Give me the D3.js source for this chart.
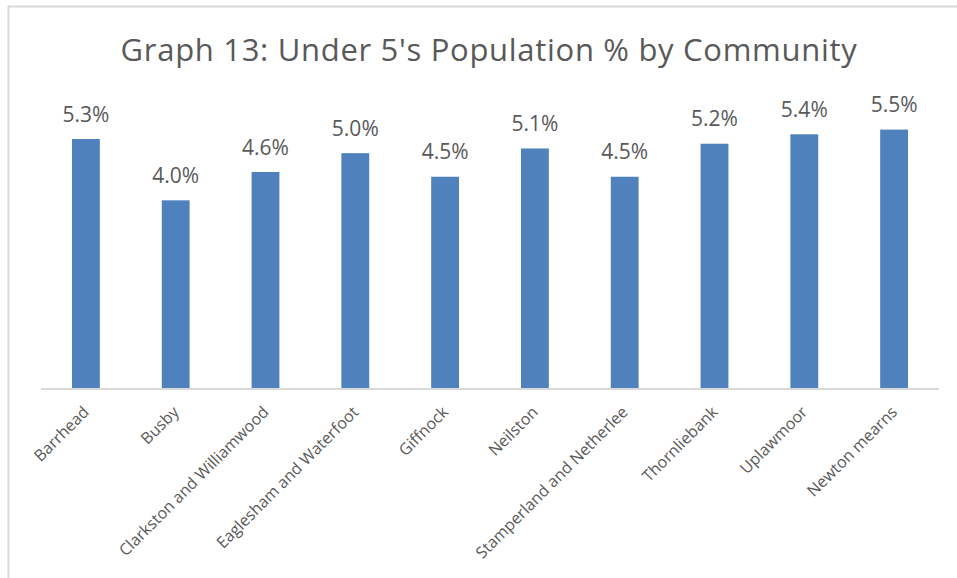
<!DOCTYPE html>
<html>
<head>
<meta charset="utf-8">
<script src="https://cdn.jsdelivr.net/npm/d3@7"></script>
<style>
  html, body { margin: 0; padding: 0; background: #ffffff; }
  svg { display: block; }
  text { font-family: "Open Sans", "Noto Sans", sans-serif; fill: #595959; }
</style>
</head>
<body>
<svg id="chart" width="957" height="578"></svg>
<script>
// Under-5 population share by community (%)
const communities = [
  "Barrhead", "Busby", "Clarkston and Williamwood", "Eaglesham and Waterfoot",
  "Giffnock", "Neilston", "Stamperland and Netherlee", "Thornliebank",
  "Uplawmoor", "Newton mearns"
];
const under5Pct = [5.3, 4.0, 4.6, 5.0, 4.5, 5.1, 4.5, 5.2, 5.4, 5.5];
const yDomain = [0, 6];
const chartTitle = "Graph 13: Under 5's Population % by Community";

const width = 957, height = 578;
const margin = { left: 41, right: 18, top: 106, bottom: 189 };
const svg = d3.select("#chart");

// chart frame edges
svg.append("line")
  .attr("x1", 8).attr("x2", width).attr("y1", 6.5).attr("y2", 6.5)
  .attr("stroke", "#d9d9d9").attr("stroke-width", 2);
svg.append("line")
  .attr("x1", 8.5).attr("x2", 8.5).attr("y1", 6).attr("y2", height)
  .attr("stroke", "#d9d9d9").attr("stroke-width", 2);

const x = d3.scaleBand()
  .domain(communities)
  .range([margin.left, width - margin.right])
  .paddingInner(0.69)
  .paddingOuter(0.345);

const y = d3.scaleLinear()
  .domain(yDomain)
  .range([height - margin.bottom, margin.top]);

// title
svg.append("text")
  .attr("x", 489).attr("y", 61)
  .attr("text-anchor", "middle")
  .attr("font-size", 31)
  .attr("letter-spacing", 0.7)
  .text(chartTitle);

// bars
svg.append("g").selectAll("rect")
  .data(communities)
  .join("rect")
  .attr("x", d => x(d))
  .attr("width", x.bandwidth())
  .attr("y", (d, i) => y(under5Pct[i]))
  .attr("height", (d, i) => y(0) - y(under5Pct[i]))
  .attr("fill", "#4f81bd");

// value labels
svg.append("g").selectAll("text")
  .data(communities)
  .join("text")
  .attr("x", d => x(d) + x.bandwidth() / 2)
  .attr("y", (d, i) => y(under5Pct[i]) - 17.5)
  .attr("text-anchor", "middle")
  .attr("font-size", 21)
  .attr("fill", "#404040")
  .text((d, i) => d3.format(".1f")(under5Pct[i]) + "%");

// category axis
const xAxis = svg.append("g")
  .attr("transform", `translate(0,${y(0)})`)
  .call(d3.axisBottom(x).tickSize(0).tickSizeOuter(0));
xAxis.select(".domain").attr("stroke", "#d9d9d9").attr("stroke-width", 2)
  .attr("d", `M${margin.left},0H${width - margin.right}`);
xAxis.selectAll(".tick text")
  .attr("font-size", 16)
  .attr("font-family", "'Open Sans', 'Noto Sans', sans-serif")
  .attr("fill", "#595959")
  .attr("text-anchor", "end")
  .attr("dx", 0)
  .attr("dy", 0)
  .attr("transform", "translate(2,22) rotate(-45)");
</script>
</body>
</html>
